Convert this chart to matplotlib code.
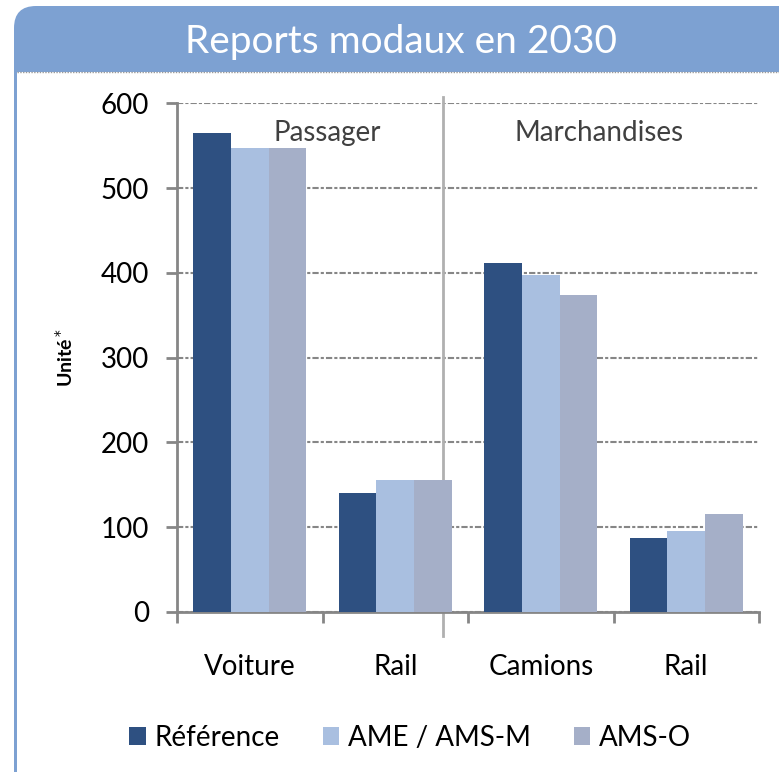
import numpy as np
import matplotlib.pyplot as plt
from matplotlib.patches import FancyBboxPatch, Rectangle, Patch

categories = ['Voiture', 'Rail', 'Camions', 'Rail']
series = ['Référence', 'AME / AMS-M', 'AMS-O']
ref_vals = [565, 140, 412, 87]
ame_vals = [547, 156, 398, 95]
amso_vals = [547, 156, 374, 116]
yticks = [0, 100, 200, 300, 400, 500, 600]
groups = ['Passager', 'Marchandises']

colors = ['#2E5081', '#A9BFE0', '#A5AFC8']
header_blue = '#7DA1D2'
axis_gray = '#868686'

plt.rcParams['font.family'] = ['Lato', 'DejaVu Sans']

fig = plt.figure(figsize=(7.79, 7.72), dpi=100)

# header band with rounded top corners (pixel coords via inches * 100)
px = fig.dpi_scale_trans
s = 0.01
hdr = FancyBboxPatch((14 * s, (772 - 110) * s), (779 - 14 + 30) * s, (110 - 6) * s,
                     boxstyle='round,pad=0,rounding_size=0.22', transform=px,
                     facecolor=header_blue, edgecolor='none', zorder=0)
fig.patches.append(hdr)
fig.patches.append(Rectangle((0, 0), 7.79, (772 - 72) * s, transform=px,
                             facecolor='white', edgecolor='none', zorder=1))
fig.patches.append(Rectangle((14 * s, 0), 3 * s, (772 - 72) * s, transform=px,
                             facecolor=header_blue, edgecolor='none', zorder=2))
fig.lines.append(plt.Line2D([17 * s, 7.79], [(772 - 72) * s] * 2, transform=px,
                            color='#9A9A9A', lw=1.0, ls=(0, (1, 1)), zorder=3))
fig.text(401 / 779, 1 - 42 / 772, 'Reports modaux en 2030', color='white',
         fontsize=28, ha='center', va='center', zorder=4)

ax = fig.add_axes([177 / 779, 1 - 612 / 772, (759 - 177) / 779, (612 - 103.3) / 772])
ax.set_zorder(5)
ax.patch.set_alpha(0)

x = np.arange(len(categories))
w = 0.26
for i, (vals, lab) in enumerate(zip([ref_vals, ame_vals, amso_vals], series)):
    ax.bar(x + (i - 1) * w, vals, width=w, color=colors[i], label=lab, zorder=3)

ax.set_xlim(-0.5, len(categories) - 0.5)
ax.set_ylim(0, 600)
ax.set_yticks(yticks)
ax.set_yticklabels([str(v) for v in yticks])
ax.set_xticks(x)
ax.set_xticklabels(categories)
ax.set_xticks(np.arange(-0.5, len(categories)), minor=True)

ax.grid(axis='y', color=axis_gray, lw=1.5, ls=(0, (3, 1, 1.5, 1)), zorder=1)
ax.set_axisbelow(True)
for sp in ['top', 'right']:
    ax.spines[sp].set_visible(False)
for sp in ['left', 'bottom']:
    ax.spines[sp].set_color(axis_gray)
    ax.spines[sp].set_linewidth(2)

ax.tick_params(axis='y', length=8, width=2, color=axis_gray, labelsize=20, pad=12)
ax.tick_params(axis='x', which='major', length=0, labelsize=20, pad=30)
ax.tick_params(axis='x', which='minor', length=8, width=2, color=axis_gray)

# separator between passenger and freight
ax.plot([1.328, 1.328], [-28, 608], color='#B0B0B0', lw=2, zorder=2, clip_on=False)
ax.text(0.53, 565, groups[0], fontsize=20, color='#404040', ha='center', va='center')
ax.text(2.4, 565, groups[1], fontsize=20, color='#404040', ha='center', va='center')

ax.set_ylabel('Unité$^*$', fontsize=14, fontweight='bold', labelpad=18)

handles = [Patch(facecolor=c, edgecolor='none') for c in colors]
fig.legend(handles, series, loc='center', bbox_to_anchor=(410 / 779, 1 - 738 / 772),
           ncol=3, frameon=False, fontsize=20, handlelength=0.6, handleheight=0.6,
           handletextpad=0.3, columnspacing=1.55)

fig.savefig('out.png', dpi=100)
